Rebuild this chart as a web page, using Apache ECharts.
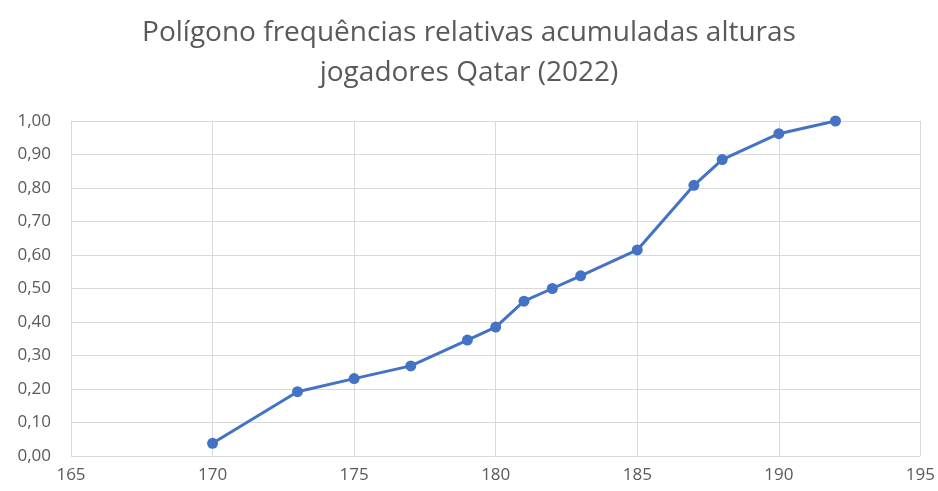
<!DOCTYPE html>
<html>
<head>
<meta charset="utf-8">
<script src="https://cdn.jsdelivr.net/npm/echarts@6/dist/echarts.min.js"></script>
<style>
  html, body { margin: 0; padding: 0; background: #fff; }
  #chart { width: 938px; height: 491px; }
</style>
</head>
<body>
<div id="chart"></div>
<script>
// alturas (cm) e frequência relativa acumulada
const alturas = [170, 173, 175, 177, 179, 180, 181, 182, 183, 185, 187, 188, 190, 192]
const freqAcum = [0.038, 0.192, 0.231, 0.269, 0.346, 0.385, 0.462, 0.500, 0.538, 0.615, 0.808, 0.885, 0.962, 1.000]

const textColor = '#595959'
const gridColor = '#d9d9d9'

const chart = echarts.init(document.getElementById('chart'))
chart.setOption({
    animation: false,
    title: {
        text: 'Polígono frequências relativas acumuladas alturas\njogadores Qatar (2022)',
        left: 'center',
        top: 8,
        textStyle: {
            color: textColor,
            fontFamily: 'Open Sans',
            fontWeight: 'normal',
            fontSize: 28,
            lineHeight: 40
        }
    },
    grid: {
        left: 71,
        right: 16,
        top: 121,
        bottom: 35
    },
    xAxis: {
        type: 'value',
        min: 165,
        max: 195,
        interval: 5,
        axisLine: { show: false },
        axisTick: { show: false },
        axisLabel: {
            color: textColor,
            fontFamily: 'Open Sans',
            fontSize: 17,
            margin: 11
        },
        splitLine: { lineStyle: { color: gridColor, width: 1 } }
    },
    yAxis: {
        type: 'value',
        min: 0,
        max: 1,
        interval: 0.1,
        axisLine: { show: false },
        axisTick: { show: false },
        axisLabel: {
            color: textColor,
            fontFamily: 'Open Sans',
            fontSize: 17,
            margin: 20,
            formatter: v => v.toFixed(2).replace('.', ',')
        },
        splitLine: { lineStyle: { color: gridColor, width: 1 } }
    },
    series: [{
        type: 'line',
        data: alturas.map((a, i) => [a, freqAcum[i]]),
        symbol: 'circle',
        symbolSize: 11,
        lineStyle: { color: '#4472C4', width: 3 },
        itemStyle: { color: '#4472C4' }
    }]
})
</script>
</body>
</html>
